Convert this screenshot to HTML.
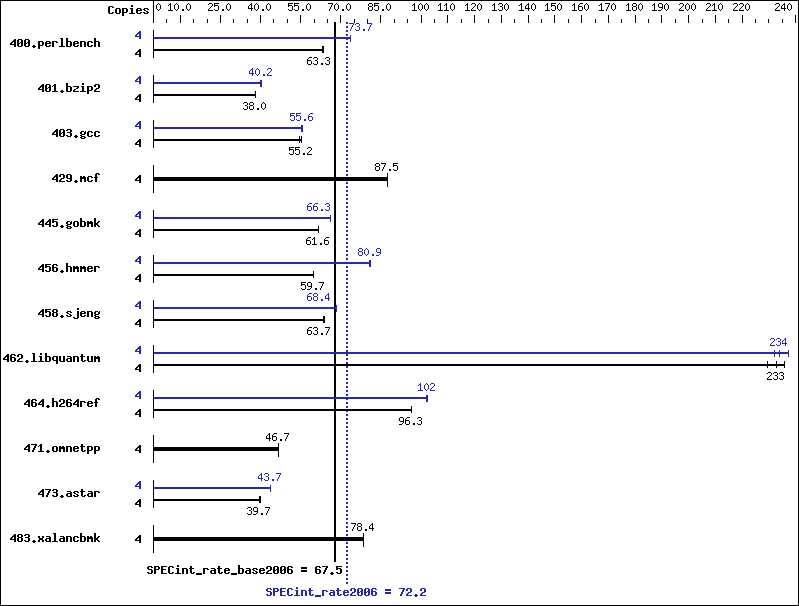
<!DOCTYPE html>
<html><head><meta charset="utf-8"><title>SPECint_rate2006</title>
<style>
html,body{margin:0;padding:0;background:#fff;font-family:"Liberation Sans",sans-serif;}
svg{display:block;}
text{font-family:"Liberation Mono",monospace;fill:none;stroke:none;white-space:pre;}
.tb{font-size:12px;font-weight:bold;}
.ts{font-size:10px;}
</style></head><body>
<svg width="799" height="606" viewBox="0 0 799 606" shape-rendering="crispEdges" fill="#000">
<defs>
<path id="s0" d="M2 0h1v1h-1zM1 1h1v1h-1zM3 1h1v1h-1zM0 2h1v1h-1zM4 2h1v1h-1zM0 3h1v1h-1zM4 3h1v1h-1zM0 4h1v1h-1zM4 4h1v1h-1zM0 5h1v1h-1zM4 5h1v1h-1zM1 6h1v1h-1zM3 6h1v1h-1zM2 7h1v1h-1z"/>
<path id="s1" d="M2 0h1v1h-1zM1 1h2v1h-2zM0 2h1v1h-1zM2 2h1v1h-1zM2 3h1v1h-1zM2 4h1v1h-1zM2 5h1v1h-1zM2 6h1v1h-1zM0 7h5v1h-5z"/>
<path id="s2" d="M2 6h2v1h-2zM2 7h2v1h-2z"/>
<path id="s3" d="M1 0h3v1h-3zM0 1h1v1h-1zM4 1h1v1h-1zM4 2h1v1h-1zM3 3h1v1h-1zM2 4h1v1h-1zM1 5h1v1h-1zM0 6h1v1h-1zM0 7h5v1h-5z"/>
<path id="s4" d="M0 0h5v1h-5zM0 1h1v1h-1zM0 2h4v1h-4zM0 3h1v1h-1zM4 3h1v1h-1zM4 4h1v1h-1zM4 5h1v1h-1zM0 6h1v1h-1zM4 6h1v1h-1zM1 7h3v1h-3z"/>
<path id="s5" d="M3 0h1v1h-1zM2 1h2v1h-2zM1 2h1v1h-1zM3 2h1v1h-1zM0 3h1v1h-1zM3 3h1v1h-1zM0 4h1v1h-1zM3 4h1v1h-1zM0 5h5v1h-5zM3 6h1v1h-1zM3 7h1v1h-1z"/>
<path id="s6" d="M0 0h5v1h-5zM4 1h1v1h-1zM3 2h1v1h-1zM3 3h1v1h-1zM2 4h1v1h-1zM2 5h1v1h-1zM1 6h1v1h-1zM1 7h1v1h-1z"/>
<path id="s7" d="M1 0h3v1h-3zM0 1h1v1h-1zM4 1h1v1h-1zM0 2h1v1h-1zM4 2h1v1h-1zM1 3h3v1h-3zM0 4h1v1h-1zM4 4h1v1h-1zM0 5h1v1h-1zM4 5h1v1h-1zM0 6h1v1h-1zM4 6h1v1h-1zM1 7h3v1h-3z"/>
<path id="s8" d="M1 0h3v1h-3zM0 1h1v1h-1zM4 1h1v1h-1zM4 2h1v1h-1zM2 3h2v1h-2zM4 4h1v1h-1zM4 5h1v1h-1zM0 6h1v1h-1zM4 6h1v1h-1zM1 7h3v1h-3z"/>
<path id="s9" d="M2 0h3v1h-3zM1 1h1v1h-1zM0 2h1v1h-1zM0 3h4v1h-4zM0 4h1v1h-1zM4 4h1v1h-1zM0 5h1v1h-1zM4 5h1v1h-1zM0 6h1v1h-1zM4 6h1v1h-1zM1 7h3v1h-3z"/>
<path id="s10" d="M1 0h3v1h-3zM0 1h1v1h-1zM4 1h1v1h-1zM0 2h1v1h-1zM4 2h1v1h-1zM0 3h1v1h-1zM4 3h1v1h-1zM1 4h4v1h-4zM4 5h1v1h-1zM3 6h1v1h-1zM0 7h3v1h-3z"/>
<path id="b11" d="M1 0h4v1h-4zM0 1h2v1h-2zM4 1h2v1h-2zM0 2h2v1h-2zM0 3h2v1h-2zM0 4h2v1h-2zM0 5h2v1h-2zM0 6h2v1h-2zM4 6h2v1h-2zM1 7h4v1h-4z"/>
<path id="b12" d="M1 2h4v1h-4zM0 3h2v1h-2zM4 3h2v1h-2zM0 4h2v1h-2zM4 4h2v1h-2zM0 5h2v1h-2zM4 5h2v1h-2zM0 6h2v1h-2zM4 6h2v1h-2zM1 7h4v1h-4z"/>
<path id="b13" d="M0 2h5v1h-5zM0 3h2v1h-2zM4 3h2v1h-2zM0 4h2v1h-2zM4 4h2v1h-2zM0 5h2v1h-2zM4 5h2v1h-2zM0 6h5v1h-5zM0 7h2v1h-2zM0 8h2v1h-2zM0 9h2v1h-2z"/>
<path id="b14" d="M2 -1h2v1h-2zM2 0h2v1h-2zM1 2h3v1h-3zM2 3h2v1h-2zM2 4h2v1h-2zM2 5h2v1h-2zM2 6h2v1h-2zM0 7h6v1h-6z"/>
<path id="b15" d="M1 2h4v1h-4zM0 3h2v1h-2zM4 3h2v1h-2zM0 4h6v1h-6zM0 5h2v1h-2zM0 6h2v1h-2zM4 6h2v1h-2zM1 7h4v1h-4z"/>
<path id="b16" d="M1 2h4v1h-4zM0 3h2v1h-2zM4 3h2v1h-2zM1 4h2v1h-2zM3 5h2v1h-2zM0 6h2v1h-2zM4 6h2v1h-2zM1 7h4v1h-4z"/>
<path id="b17" d="M4 0h2v1h-2zM3 1h3v1h-3zM2 2h4v1h-4zM1 3h2v1h-2zM4 3h2v1h-2zM0 4h2v1h-2zM4 4h2v1h-2zM0 5h6v1h-6zM4 6h2v1h-2zM4 7h2v1h-2z"/>
<path id="b18" d="M1 0h4v1h-4zM0 1h2v1h-2zM4 1h2v1h-2zM0 2h2v1h-2zM4 2h2v1h-2zM0 3h2v1h-2zM3 3h3v1h-3zM0 4h3v1h-3zM4 4h2v1h-2zM0 5h2v1h-2zM4 5h2v1h-2zM0 6h2v1h-2zM4 6h2v1h-2zM1 7h4v1h-4z"/>
<path id="b19" d="M2 6h2v1h-2zM1 7h4v1h-4zM2 8h2v1h-2z"/>
<path id="b20" d="M0 2h5v1h-5zM0 3h2v1h-2zM4 3h2v1h-2zM0 4h2v1h-2zM0 5h2v1h-2zM0 6h2v1h-2zM0 7h2v1h-2z"/>
<path id="b21" d="M1 -1h3v1h-3zM2 0h2v1h-2zM2 1h2v1h-2zM2 2h2v1h-2zM2 3h2v1h-2zM2 4h2v1h-2zM2 5h2v1h-2zM2 6h2v1h-2zM0 7h6v1h-6z"/>
<path id="b22" d="M0 -1h2v1h-2zM0 0h2v1h-2zM0 1h2v1h-2zM0 2h5v1h-5zM0 3h2v1h-2zM4 3h2v1h-2zM0 4h2v1h-2zM4 4h2v1h-2zM0 5h2v1h-2zM4 5h2v1h-2zM0 6h2v1h-2zM4 6h2v1h-2zM0 7h5v1h-5z"/>
<path id="b23" d="M0 2h5v1h-5zM0 3h2v1h-2zM4 3h2v1h-2zM0 4h2v1h-2zM4 4h2v1h-2zM0 5h2v1h-2zM4 5h2v1h-2zM0 6h2v1h-2zM4 6h2v1h-2zM0 7h2v1h-2zM4 7h2v1h-2z"/>
<path id="b24" d="M1 2h4v1h-4zM0 3h2v1h-2zM4 3h2v1h-2zM0 4h2v1h-2zM0 5h2v1h-2zM0 6h2v1h-2zM4 6h2v1h-2zM1 7h4v1h-4z"/>
<path id="b25" d="M0 -1h2v1h-2zM0 0h2v1h-2zM0 1h2v1h-2zM0 2h5v1h-5zM0 3h2v1h-2zM4 3h2v1h-2zM0 4h2v1h-2zM4 4h2v1h-2zM0 5h2v1h-2zM4 5h2v1h-2zM0 6h2v1h-2zM4 6h2v1h-2zM0 7h2v1h-2zM4 7h2v1h-2z"/>
<path id="b26" d="M2 0h2v1h-2zM1 1h3v1h-3zM0 2h1v1h-1zM2 2h2v1h-2zM2 3h2v1h-2zM2 4h2v1h-2zM2 5h2v1h-2zM2 6h2v1h-2zM0 7h6v1h-6z"/>
<path id="b27" d="M0 2h6v1h-6zM4 3h2v1h-2zM3 4h2v1h-2zM1 5h2v1h-2zM0 6h2v1h-2zM0 7h6v1h-6z"/>
<path id="b28" d="M1 0h4v1h-4zM0 1h2v1h-2zM4 1h2v1h-2zM0 2h2v1h-2zM4 2h2v1h-2zM4 3h2v1h-2zM2 4h3v1h-3zM1 5h2v1h-2zM0 6h2v1h-2zM0 7h6v1h-6z"/>
<path id="b29" d="M1 0h4v1h-4zM0 1h2v1h-2zM4 1h2v1h-2zM4 2h2v1h-2zM1 3h4v1h-4zM4 4h2v1h-2zM4 5h2v1h-2zM0 6h2v1h-2zM4 6h2v1h-2zM1 7h4v1h-4z"/>
<path id="b30" d="M1 2h3v1h-3zM5 2h1v1h-1zM0 3h2v1h-2zM4 3h2v1h-2zM0 4h2v1h-2zM4 4h2v1h-2zM1 5h4v1h-4zM0 6h2v1h-2zM1 7h4v1h-4zM0 8h2v1h-2zM4 8h2v1h-2zM1 9h4v1h-4z"/>
<path id="b31" d="M1 0h4v1h-4zM0 1h2v1h-2zM4 1h2v1h-2zM0 2h2v1h-2zM4 2h2v1h-2zM0 3h2v1h-2zM4 3h2v1h-2zM1 4h5v1h-5zM4 5h2v1h-2zM0 6h2v1h-2zM4 6h2v1h-2zM1 7h4v1h-4z"/>
<path id="b32" d="M0 2h2v1h-2zM3 2h2v1h-2zM0 3h6v1h-6zM0 4h6v1h-6zM0 5h2v1h-2zM4 5h2v1h-2zM0 6h2v1h-2zM4 6h2v1h-2zM0 7h2v1h-2zM4 7h2v1h-2z"/>
<path id="b33" d="M2 -1h3v1h-3zM1 0h2v1h-2zM4 0h2v1h-2zM1 1h2v1h-2zM1 2h2v1h-2zM0 3h4v1h-4zM1 4h2v1h-2zM1 5h2v1h-2zM1 6h2v1h-2zM1 7h2v1h-2z"/>
<path id="b34" d="M0 0h6v1h-6zM0 1h2v1h-2zM0 2h5v1h-5zM0 3h2v1h-2zM4 3h2v1h-2zM4 4h2v1h-2zM4 5h2v1h-2zM0 6h2v1h-2zM4 6h2v1h-2zM1 7h4v1h-4z"/>
<path id="b35" d="M0 -1h2v1h-2zM0 0h2v1h-2zM0 1h2v1h-2zM0 2h2v1h-2zM4 2h2v1h-2zM0 3h2v1h-2zM3 3h2v1h-2zM0 4h4v1h-4zM0 5h4v1h-4zM0 6h2v1h-2zM3 6h2v1h-2zM0 7h2v1h-2zM4 7h2v1h-2z"/>
<path id="b36" d="M1 0h4v1h-4zM0 1h2v1h-2zM4 1h2v1h-2zM0 2h2v1h-2zM0 3h5v1h-5zM0 4h2v1h-2zM4 4h2v1h-2zM0 5h2v1h-2zM4 5h2v1h-2zM0 6h2v1h-2zM4 6h2v1h-2zM1 7h4v1h-4z"/>
<path id="b37" d="M1 0h4v1h-4zM0 1h2v1h-2zM4 1h2v1h-2zM0 2h2v1h-2zM4 2h2v1h-2zM1 3h4v1h-4zM0 4h2v1h-2zM4 4h2v1h-2zM0 5h2v1h-2zM4 5h2v1h-2zM0 6h2v1h-2zM4 6h2v1h-2zM1 7h4v1h-4z"/>
<path id="b38" d="M4 -1h2v1h-2zM4 0h2v1h-2zM4 2h2v1h-2zM4 3h2v1h-2zM4 4h2v1h-2zM4 5h2v1h-2zM4 6h2v1h-2zM4 7h2v1h-2zM0 8h2v1h-2zM4 8h2v1h-2zM1 9h4v1h-4z"/>
<path id="b39" d="M1 2h5v1h-5zM0 3h2v1h-2zM4 3h2v1h-2zM0 4h2v1h-2zM4 4h2v1h-2zM0 5h2v1h-2zM4 5h2v1h-2zM1 6h5v1h-5zM4 7h2v1h-2zM4 8h2v1h-2zM4 9h2v1h-2z"/>
<path id="b40" d="M0 2h2v1h-2zM4 2h2v1h-2zM0 3h2v1h-2zM4 3h2v1h-2zM0 4h2v1h-2zM4 4h2v1h-2zM0 5h2v1h-2zM4 5h2v1h-2zM0 6h2v1h-2zM4 6h2v1h-2zM1 7h5v1h-5z"/>
<path id="b41" d="M1 2h4v1h-4zM4 3h2v1h-2zM1 4h5v1h-5zM0 5h2v1h-2zM4 5h2v1h-2zM0 6h2v1h-2zM4 6h2v1h-2zM1 7h5v1h-5z"/>
<path id="b42" d="M1 0h2v1h-2zM1 1h2v1h-2zM0 2h5v1h-5zM1 3h2v1h-2zM1 4h2v1h-2zM1 5h2v1h-2zM1 6h2v1h-2zM4 6h2v1h-2zM2 7h3v1h-3z"/>
<path id="b43" d="M0 0h6v1h-6zM4 1h2v1h-2zM3 2h2v1h-2zM3 3h2v1h-2zM2 4h2v1h-2zM2 5h2v1h-2zM1 6h2v1h-2zM1 7h2v1h-2z"/>
<path id="b44" d="M0 2h2v1h-2zM4 2h2v1h-2zM0 3h2v1h-2zM4 3h2v1h-2zM1 4h4v1h-4zM1 5h4v1h-4zM0 6h2v1h-2zM4 6h2v1h-2zM0 7h2v1h-2zM4 7h2v1h-2z"/>
<path id="b45" d="M1 0h4v1h-4zM0 1h2v1h-2zM4 1h2v1h-2zM0 2h2v1h-2zM1 3h4v1h-4zM4 4h2v1h-2zM4 5h2v1h-2zM0 6h2v1h-2zM4 6h2v1h-2zM1 7h4v1h-4z"/>
<path id="b46" d="M0 0h5v1h-5zM0 1h2v1h-2zM4 1h2v1h-2zM0 2h2v1h-2zM4 2h2v1h-2zM0 3h5v1h-5zM0 4h2v1h-2zM0 5h2v1h-2zM0 6h2v1h-2zM0 7h2v1h-2z"/>
<path id="b47" d="M0 0h6v1h-6zM0 1h2v1h-2zM0 2h2v1h-2zM0 3h5v1h-5zM0 4h2v1h-2zM0 5h2v1h-2zM0 6h2v1h-2zM0 7h6v1h-6z"/>
<path id="b48" d="M0 7h6v1h-6zM0 8h6v1h-6z"/>
<path id="b49" d="M0 1h6v1h-6zM0 2h6v1h-6zM0 4h6v1h-6zM0 5h6v1h-6z"/>
</defs>
<rect x="153" y="0" width="1" height="23"/>
<rect x="166" y="19" width="1" height="4"/>
<rect x="180" y="15" width="1" height="8"/>
<rect x="193" y="19" width="1" height="4"/>
<rect x="207" y="19" width="1" height="4"/>
<rect x="220" y="15" width="1" height="8"/>
<rect x="233" y="19" width="1" height="4"/>
<rect x="247" y="19" width="1" height="4"/>
<rect x="260" y="15" width="1" height="8"/>
<rect x="273" y="19" width="1" height="4"/>
<rect x="287" y="19" width="1" height="4"/>
<rect x="300" y="15" width="1" height="8"/>
<rect x="314" y="19" width="1" height="4"/>
<rect x="327" y="19" width="1" height="4"/>
<rect x="340" y="15" width="1" height="8"/>
<rect x="354" y="19" width="1" height="4"/>
<rect x="367" y="19" width="1" height="4"/>
<rect x="380" y="15" width="1" height="8"/>
<rect x="394" y="19" width="1" height="4"/>
<rect x="407" y="19" width="1" height="4"/>
<rect x="421" y="15" width="1" height="8"/>
<rect x="434" y="19" width="1" height="4"/>
<rect x="447" y="15" width="1" height="8"/>
<rect x="461" y="19" width="1" height="4"/>
<rect x="474" y="15" width="1" height="8"/>
<rect x="488" y="19" width="1" height="4"/>
<rect x="501" y="15" width="1" height="8"/>
<rect x="514" y="19" width="1" height="4"/>
<rect x="528" y="15" width="1" height="8"/>
<rect x="541" y="19" width="1" height="4"/>
<rect x="554" y="15" width="1" height="8"/>
<rect x="568" y="19" width="1" height="4"/>
<rect x="581" y="15" width="1" height="8"/>
<rect x="595" y="19" width="1" height="4"/>
<rect x="608" y="15" width="1" height="8"/>
<rect x="621" y="19" width="1" height="4"/>
<rect x="635" y="15" width="1" height="8"/>
<rect x="648" y="19" width="1" height="4"/>
<rect x="661" y="15" width="1" height="8"/>
<rect x="675" y="19" width="1" height="4"/>
<rect x="688" y="15" width="1" height="8"/>
<rect x="702" y="19" width="1" height="4"/>
<rect x="715" y="15" width="1" height="8"/>
<rect x="728" y="19" width="1" height="4"/>
<rect x="742" y="15" width="1" height="8"/>
<rect x="755" y="19" width="1" height="4"/>
<rect x="768" y="19" width="1" height="4"/>
<rect x="782" y="19" width="1" height="4"/>
<rect x="795" y="15" width="1" height="8"/>
<g><text class="ts" x="156" y="11" textLength="6">0</text><use href="#s0" x="156" y="3"/></g>
<g><text class="ts" x="168" y="11" textLength="24">10.0</text><use href="#s1" x="168" y="3"/><use href="#s0" x="174" y="3"/><use href="#s2" x="180" y="3"/><use href="#s0" x="186" y="3"/></g>
<g><text class="ts" x="208" y="11" textLength="24">25.0</text><use href="#s3" x="208" y="3"/><use href="#s4" x="214" y="3"/><use href="#s2" x="220" y="3"/><use href="#s0" x="226" y="3"/></g>
<g><text class="ts" x="248" y="11" textLength="24">40.0</text><use href="#s5" x="248" y="3"/><use href="#s0" x="254" y="3"/><use href="#s2" x="260" y="3"/><use href="#s0" x="266" y="3"/></g>
<g><text class="ts" x="288" y="11" textLength="24">55.0</text><use href="#s4" x="288" y="3"/><use href="#s4" x="294" y="3"/><use href="#s2" x="300" y="3"/><use href="#s0" x="306" y="3"/></g>
<g><text class="ts" x="328" y="11" textLength="24">70.0</text><use href="#s6" x="328" y="3"/><use href="#s0" x="334" y="3"/><use href="#s2" x="340" y="3"/><use href="#s0" x="346" y="3"/></g>
<g><text class="ts" x="368" y="11" textLength="24">85.0</text><use href="#s7" x="368" y="3"/><use href="#s4" x="374" y="3"/><use href="#s2" x="380" y="3"/><use href="#s0" x="386" y="3"/></g>
<g><text class="ts" x="412" y="11" textLength="18">100</text><use href="#s1" x="412" y="3"/><use href="#s0" x="418" y="3"/><use href="#s0" x="424" y="3"/></g>
<g><text class="ts" x="438" y="11" textLength="18">110</text><use href="#s1" x="438" y="3"/><use href="#s1" x="444" y="3"/><use href="#s0" x="450" y="3"/></g>
<g><text class="ts" x="465" y="11" textLength="18">120</text><use href="#s1" x="465" y="3"/><use href="#s3" x="471" y="3"/><use href="#s0" x="477" y="3"/></g>
<g><text class="ts" x="492" y="11" textLength="18">130</text><use href="#s1" x="492" y="3"/><use href="#s8" x="498" y="3"/><use href="#s0" x="504" y="3"/></g>
<g><text class="ts" x="519" y="11" textLength="18">140</text><use href="#s1" x="519" y="3"/><use href="#s5" x="525" y="3"/><use href="#s0" x="531" y="3"/></g>
<g><text class="ts" x="545" y="11" textLength="18">150</text><use href="#s1" x="545" y="3"/><use href="#s4" x="551" y="3"/><use href="#s0" x="557" y="3"/></g>
<g><text class="ts" x="572" y="11" textLength="18">160</text><use href="#s1" x="572" y="3"/><use href="#s9" x="578" y="3"/><use href="#s0" x="584" y="3"/></g>
<g><text class="ts" x="599" y="11" textLength="18">170</text><use href="#s1" x="599" y="3"/><use href="#s6" x="605" y="3"/><use href="#s0" x="611" y="3"/></g>
<g><text class="ts" x="626" y="11" textLength="18">180</text><use href="#s1" x="626" y="3"/><use href="#s7" x="632" y="3"/><use href="#s0" x="638" y="3"/></g>
<g><text class="ts" x="652" y="11" textLength="18">190</text><use href="#s1" x="652" y="3"/><use href="#s10" x="658" y="3"/><use href="#s0" x="664" y="3"/></g>
<g><text class="ts" x="679" y="11" textLength="18">200</text><use href="#s3" x="679" y="3"/><use href="#s0" x="685" y="3"/><use href="#s0" x="691" y="3"/></g>
<g><text class="ts" x="706" y="11" textLength="18">210</text><use href="#s3" x="706" y="3"/><use href="#s1" x="712" y="3"/><use href="#s0" x="718" y="3"/></g>
<g><text class="ts" x="733" y="11" textLength="18">220</text><use href="#s3" x="733" y="3"/><use href="#s3" x="739" y="3"/><use href="#s0" x="745" y="3"/></g>
<g><text class="ts" x="775" y="11" textLength="18">240</text><use href="#s3" x="775" y="3"/><use href="#s5" x="781" y="3"/><use href="#s0" x="787" y="3"/></g>
<g><text class="tb" x="108" y="14" textLength="42">Copies</text><use href="#b11" x="108" y="6"/><use href="#b12" x="115" y="6"/><use href="#b13" x="122" y="6"/><use href="#b14" x="129" y="6"/><use href="#b15" x="136" y="6"/><use href="#b16" x="143" y="6"/></g>
<rect x="334" y="22" width="2" height="540"/>
<rect x="346" y="22" width="2" height="2" fill="#2727b0"/>
<rect x="346" y="26" width="2" height="2" fill="#2727b0"/>
<rect x="346" y="30" width="2" height="2" fill="#2727b0"/>
<rect x="346" y="34" width="2" height="2" fill="#2727b0"/>
<rect x="346" y="38" width="2" height="2" fill="#2727b0"/>
<rect x="346" y="42" width="2" height="2" fill="#2727b0"/>
<rect x="346" y="46" width="2" height="2" fill="#2727b0"/>
<rect x="346" y="50" width="2" height="2" fill="#2727b0"/>
<rect x="346" y="54" width="2" height="2" fill="#2727b0"/>
<rect x="346" y="58" width="2" height="2" fill="#2727b0"/>
<rect x="346" y="62" width="2" height="2" fill="#2727b0"/>
<rect x="346" y="66" width="2" height="2" fill="#2727b0"/>
<rect x="346" y="70" width="2" height="2" fill="#2727b0"/>
<rect x="346" y="74" width="2" height="2" fill="#2727b0"/>
<rect x="346" y="78" width="2" height="2" fill="#2727b0"/>
<rect x="346" y="82" width="2" height="2" fill="#2727b0"/>
<rect x="346" y="86" width="2" height="2" fill="#2727b0"/>
<rect x="346" y="90" width="2" height="2" fill="#2727b0"/>
<rect x="346" y="94" width="2" height="2" fill="#2727b0"/>
<rect x="346" y="98" width="2" height="2" fill="#2727b0"/>
<rect x="346" y="102" width="2" height="2" fill="#2727b0"/>
<rect x="346" y="106" width="2" height="2" fill="#2727b0"/>
<rect x="346" y="110" width="2" height="2" fill="#2727b0"/>
<rect x="346" y="114" width="2" height="2" fill="#2727b0"/>
<rect x="346" y="118" width="2" height="2" fill="#2727b0"/>
<rect x="346" y="122" width="2" height="2" fill="#2727b0"/>
<rect x="346" y="126" width="2" height="2" fill="#2727b0"/>
<rect x="346" y="130" width="2" height="2" fill="#2727b0"/>
<rect x="346" y="134" width="2" height="2" fill="#2727b0"/>
<rect x="346" y="138" width="2" height="2" fill="#2727b0"/>
<rect x="346" y="142" width="2" height="2" fill="#2727b0"/>
<rect x="346" y="146" width="2" height="2" fill="#2727b0"/>
<rect x="346" y="150" width="2" height="2" fill="#2727b0"/>
<rect x="346" y="154" width="2" height="2" fill="#2727b0"/>
<rect x="346" y="158" width="2" height="2" fill="#2727b0"/>
<rect x="346" y="162" width="2" height="2" fill="#2727b0"/>
<rect x="346" y="166" width="2" height="2" fill="#2727b0"/>
<rect x="346" y="170" width="2" height="2" fill="#2727b0"/>
<rect x="346" y="174" width="2" height="2" fill="#2727b0"/>
<rect x="346" y="178" width="2" height="2" fill="#2727b0"/>
<rect x="346" y="182" width="2" height="2" fill="#2727b0"/>
<rect x="346" y="186" width="2" height="2" fill="#2727b0"/>
<rect x="346" y="190" width="2" height="2" fill="#2727b0"/>
<rect x="346" y="194" width="2" height="2" fill="#2727b0"/>
<rect x="346" y="198" width="2" height="2" fill="#2727b0"/>
<rect x="346" y="202" width="2" height="2" fill="#2727b0"/>
<rect x="346" y="206" width="2" height="2" fill="#2727b0"/>
<rect x="346" y="210" width="2" height="2" fill="#2727b0"/>
<rect x="346" y="214" width="2" height="2" fill="#2727b0"/>
<rect x="346" y="218" width="2" height="2" fill="#2727b0"/>
<rect x="346" y="222" width="2" height="2" fill="#2727b0"/>
<rect x="346" y="226" width="2" height="2" fill="#2727b0"/>
<rect x="346" y="230" width="2" height="2" fill="#2727b0"/>
<rect x="346" y="234" width="2" height="2" fill="#2727b0"/>
<rect x="346" y="238" width="2" height="2" fill="#2727b0"/>
<rect x="346" y="242" width="2" height="2" fill="#2727b0"/>
<rect x="346" y="246" width="2" height="2" fill="#2727b0"/>
<rect x="346" y="250" width="2" height="2" fill="#2727b0"/>
<rect x="346" y="254" width="2" height="2" fill="#2727b0"/>
<rect x="346" y="258" width="2" height="2" fill="#2727b0"/>
<rect x="346" y="262" width="2" height="2" fill="#2727b0"/>
<rect x="346" y="266" width="2" height="2" fill="#2727b0"/>
<rect x="346" y="270" width="2" height="2" fill="#2727b0"/>
<rect x="346" y="274" width="2" height="2" fill="#2727b0"/>
<rect x="346" y="278" width="2" height="2" fill="#2727b0"/>
<rect x="346" y="282" width="2" height="2" fill="#2727b0"/>
<rect x="346" y="286" width="2" height="2" fill="#2727b0"/>
<rect x="346" y="290" width="2" height="2" fill="#2727b0"/>
<rect x="346" y="294" width="2" height="2" fill="#2727b0"/>
<rect x="346" y="298" width="2" height="2" fill="#2727b0"/>
<rect x="346" y="302" width="2" height="2" fill="#2727b0"/>
<rect x="346" y="306" width="2" height="2" fill="#2727b0"/>
<rect x="346" y="310" width="2" height="2" fill="#2727b0"/>
<rect x="346" y="314" width="2" height="2" fill="#2727b0"/>
<rect x="346" y="318" width="2" height="2" fill="#2727b0"/>
<rect x="346" y="322" width="2" height="2" fill="#2727b0"/>
<rect x="346" y="326" width="2" height="2" fill="#2727b0"/>
<rect x="346" y="330" width="2" height="2" fill="#2727b0"/>
<rect x="346" y="334" width="2" height="2" fill="#2727b0"/>
<rect x="346" y="338" width="2" height="2" fill="#2727b0"/>
<rect x="346" y="342" width="2" height="2" fill="#2727b0"/>
<rect x="346" y="346" width="2" height="2" fill="#2727b0"/>
<rect x="346" y="350" width="2" height="2" fill="#2727b0"/>
<rect x="346" y="354" width="2" height="2" fill="#2727b0"/>
<rect x="346" y="358" width="2" height="2" fill="#2727b0"/>
<rect x="346" y="362" width="2" height="2" fill="#2727b0"/>
<rect x="346" y="366" width="2" height="2" fill="#2727b0"/>
<rect x="346" y="370" width="2" height="2" fill="#2727b0"/>
<rect x="346" y="374" width="2" height="2" fill="#2727b0"/>
<rect x="346" y="378" width="2" height="2" fill="#2727b0"/>
<rect x="346" y="382" width="2" height="2" fill="#2727b0"/>
<rect x="346" y="386" width="2" height="2" fill="#2727b0"/>
<rect x="346" y="390" width="2" height="2" fill="#2727b0"/>
<rect x="346" y="394" width="2" height="2" fill="#2727b0"/>
<rect x="346" y="398" width="2" height="2" fill="#2727b0"/>
<rect x="346" y="402" width="2" height="2" fill="#2727b0"/>
<rect x="346" y="406" width="2" height="2" fill="#2727b0"/>
<rect x="346" y="410" width="2" height="2" fill="#2727b0"/>
<rect x="346" y="414" width="2" height="2" fill="#2727b0"/>
<rect x="346" y="418" width="2" height="2" fill="#2727b0"/>
<rect x="346" y="422" width="2" height="2" fill="#2727b0"/>
<rect x="346" y="426" width="2" height="2" fill="#2727b0"/>
<rect x="346" y="430" width="2" height="2" fill="#2727b0"/>
<rect x="346" y="434" width="2" height="2" fill="#2727b0"/>
<rect x="346" y="438" width="2" height="2" fill="#2727b0"/>
<rect x="346" y="442" width="2" height="2" fill="#2727b0"/>
<rect x="346" y="446" width="2" height="2" fill="#2727b0"/>
<rect x="346" y="450" width="2" height="2" fill="#2727b0"/>
<rect x="346" y="454" width="2" height="2" fill="#2727b0"/>
<rect x="346" y="458" width="2" height="2" fill="#2727b0"/>
<rect x="346" y="462" width="2" height="2" fill="#2727b0"/>
<rect x="346" y="466" width="2" height="2" fill="#2727b0"/>
<rect x="346" y="470" width="2" height="2" fill="#2727b0"/>
<rect x="346" y="474" width="2" height="2" fill="#2727b0"/>
<rect x="346" y="478" width="2" height="2" fill="#2727b0"/>
<rect x="346" y="482" width="2" height="2" fill="#2727b0"/>
<rect x="346" y="486" width="2" height="2" fill="#2727b0"/>
<rect x="346" y="490" width="2" height="2" fill="#2727b0"/>
<rect x="346" y="494" width="2" height="2" fill="#2727b0"/>
<rect x="346" y="498" width="2" height="2" fill="#2727b0"/>
<rect x="346" y="502" width="2" height="2" fill="#2727b0"/>
<rect x="346" y="506" width="2" height="2" fill="#2727b0"/>
<rect x="346" y="510" width="2" height="2" fill="#2727b0"/>
<rect x="346" y="514" width="2" height="2" fill="#2727b0"/>
<rect x="346" y="518" width="2" height="2" fill="#2727b0"/>
<rect x="346" y="522" width="2" height="2" fill="#2727b0"/>
<rect x="346" y="526" width="2" height="2" fill="#2727b0"/>
<rect x="346" y="530" width="2" height="2" fill="#2727b0"/>
<rect x="346" y="534" width="2" height="2" fill="#2727b0"/>
<rect x="346" y="538" width="2" height="2" fill="#2727b0"/>
<rect x="346" y="542" width="2" height="2" fill="#2727b0"/>
<rect x="346" y="546" width="2" height="2" fill="#2727b0"/>
<rect x="346" y="550" width="2" height="2" fill="#2727b0"/>
<rect x="346" y="554" width="2" height="2" fill="#2727b0"/>
<rect x="346" y="558" width="2" height="2" fill="#2727b0"/>
<rect x="346" y="562" width="2" height="2" fill="#2727b0"/>
<rect x="346" y="566" width="2" height="2" fill="#2727b0"/>
<rect x="346" y="570" width="2" height="2" fill="#2727b0"/>
<rect x="346" y="574" width="2" height="2" fill="#2727b0"/>
<rect x="346" y="578" width="2" height="2" fill="#2727b0"/>
<rect x="346" y="582" width="2" height="2" fill="#2727b0"/>
<rect x="153" y="30" width="1" height="28"/>
<g><text class="tb" x="10" y="47" textLength="91">400.perlbench</text><use href="#b17" x="10" y="39"/><use href="#b18" x="17" y="39"/><use href="#b18" x="24" y="39"/><use href="#b19" x="31" y="39"/><use href="#b13" x="38" y="39"/><use href="#b15" x="45" y="39"/><use href="#b20" x="52" y="39"/><use href="#b21" x="59" y="39"/><use href="#b22" x="66" y="39"/><use href="#b15" x="73" y="39"/><use href="#b23" x="80" y="39"/><use href="#b24" x="87" y="39"/><use href="#b25" x="94" y="39"/></g>
<rect x="154" y="37" width="197" height="2" fill="#2727b0"/>
<rect x="350" y="35" width="1" height="7" fill="#2727b0"/>
<g fill="#2727b0"><text class="ts" x="349" y="31" textLength="24">73.7</text><use href="#s6" x="349" y="23"/><use href="#s8" x="355" y="23"/><use href="#s2" x="361" y="23"/><use href="#s6" x="367" y="23"/></g>
<g fill="#2727b0"><text class="tb" x="135" y="39" textLength="7">4</text><use href="#b17" x="135" y="31"/></g>
<rect x="154" y="49" width="170" height="2"/>
<rect x="322" y="46" width="1" height="7"/>
<rect x="323" y="46" width="1" height="7"/>
<g><text class="ts" x="307" y="65" textLength="24">63.3</text><use href="#s9" x="307" y="57"/><use href="#s8" x="313" y="57"/><use href="#s2" x="319" y="57"/><use href="#s8" x="325" y="57"/></g>
<g><text class="tb" x="135" y="57" textLength="7">4</text><use href="#b17" x="135" y="49"/></g>
<rect x="153" y="75" width="1" height="28"/>
<g><text class="tb" x="38" y="92" textLength="63">401.bzip2</text><use href="#b17" x="38" y="84"/><use href="#b18" x="45" y="84"/><use href="#b26" x="52" y="84"/><use href="#b19" x="59" y="84"/><use href="#b22" x="66" y="84"/><use href="#b27" x="73" y="84"/><use href="#b14" x="80" y="84"/><use href="#b13" x="87" y="84"/><use href="#b28" x="94" y="84"/></g>
<rect x="154" y="82" width="108" height="2" fill="#2727b0"/>
<rect x="260" y="80" width="1" height="7" fill="#2727b0"/>
<rect x="261" y="80" width="1" height="7" fill="#2727b0"/>
<g fill="#2727b0"><text class="ts" x="249" y="76" textLength="24">40.2</text><use href="#s5" x="249" y="68"/><use href="#s0" x="255" y="68"/><use href="#s2" x="261" y="68"/><use href="#s3" x="267" y="68"/></g>
<g fill="#2727b0"><text class="tb" x="135" y="84" textLength="7">4</text><use href="#b17" x="135" y="76"/></g>
<rect x="154" y="94" width="102" height="2"/>
<rect x="255" y="91" width="1" height="7"/>
<g><text class="ts" x="243" y="110" textLength="24">38.0</text><use href="#s8" x="243" y="102"/><use href="#s7" x="249" y="102"/><use href="#s2" x="255" y="102"/><use href="#s0" x="261" y="102"/></g>
<g><text class="tb" x="135" y="102" textLength="7">4</text><use href="#b17" x="135" y="94"/></g>
<rect x="153" y="120" width="1" height="28"/>
<g><text class="tb" x="52" y="137" textLength="49">403.gcc</text><use href="#b17" x="52" y="129"/><use href="#b18" x="59" y="129"/><use href="#b29" x="66" y="129"/><use href="#b19" x="73" y="129"/><use href="#b30" x="80" y="129"/><use href="#b24" x="87" y="129"/><use href="#b24" x="94" y="129"/></g>
<rect x="154" y="127" width="149" height="2" fill="#2727b0"/>
<rect x="301" y="125" width="1" height="7" fill="#2727b0"/>
<rect x="302" y="125" width="1" height="7" fill="#2727b0"/>
<g fill="#2727b0"><text class="ts" x="290" y="121" textLength="24">55.6</text><use href="#s4" x="290" y="113"/><use href="#s4" x="296" y="113"/><use href="#s2" x="302" y="113"/><use href="#s9" x="308" y="113"/></g>
<g fill="#2727b0"><text class="tb" x="135" y="129" textLength="7">4</text><use href="#b17" x="135" y="121"/></g>
<rect x="154" y="139" width="148" height="2"/>
<rect x="299" y="136" width="1" height="7"/>
<rect x="301" y="136" width="1" height="7"/>
<g><text class="ts" x="289" y="155" textLength="24">55.2</text><use href="#s4" x="289" y="147"/><use href="#s4" x="295" y="147"/><use href="#s2" x="301" y="147"/><use href="#s3" x="307" y="147"/></g>
<g><text class="tb" x="135" y="147" textLength="7">4</text><use href="#b17" x="135" y="139"/></g>
<rect x="153" y="165" width="1" height="28"/>
<g><text class="tb" x="52" y="182" textLength="49">429.mcf</text><use href="#b17" x="52" y="174"/><use href="#b28" x="59" y="174"/><use href="#b31" x="66" y="174"/><use href="#b19" x="73" y="174"/><use href="#b32" x="80" y="174"/><use href="#b24" x="87" y="174"/><use href="#b33" x="94" y="174"/></g>
<rect x="154" y="177" width="234" height="4"/>
<rect x="387" y="173" width="1" height="14"/>
<g><text class="ts" x="375" y="171" textLength="24">87.5</text><use href="#s7" x="375" y="163"/><use href="#s6" x="381" y="163"/><use href="#s2" x="387" y="163"/><use href="#s4" x="393" y="163"/></g>
<g><text class="tb" x="135" y="183" textLength="7">4</text><use href="#b17" x="135" y="175"/></g>
<rect x="153" y="210" width="1" height="28"/>
<g><text class="tb" x="38" y="227" textLength="63">445.gobmk</text><use href="#b17" x="38" y="219"/><use href="#b17" x="45" y="219"/><use href="#b34" x="52" y="219"/><use href="#b19" x="59" y="219"/><use href="#b30" x="66" y="219"/><use href="#b12" x="73" y="219"/><use href="#b22" x="80" y="219"/><use href="#b32" x="87" y="219"/><use href="#b35" x="94" y="219"/></g>
<rect x="154" y="217" width="177" height="2" fill="#2727b0"/>
<rect x="330" y="215" width="1" height="7" fill="#2727b0"/>
<g fill="#2727b0"><text class="ts" x="307" y="211" textLength="24">66.3</text><use href="#s9" x="307" y="203"/><use href="#s9" x="313" y="203"/><use href="#s2" x="319" y="203"/><use href="#s8" x="325" y="203"/></g>
<g fill="#2727b0"><text class="tb" x="135" y="219" textLength="7">4</text><use href="#b17" x="135" y="211"/></g>
<rect x="154" y="229" width="165" height="2"/>
<rect x="318" y="226" width="1" height="7"/>
<g><text class="ts" x="306" y="245" textLength="24">61.6</text><use href="#s9" x="306" y="237"/><use href="#s1" x="312" y="237"/><use href="#s2" x="318" y="237"/><use href="#s9" x="324" y="237"/></g>
<g><text class="tb" x="135" y="237" textLength="7">4</text><use href="#b17" x="135" y="229"/></g>
<rect x="153" y="255" width="1" height="28"/>
<g><text class="tb" x="38" y="272" textLength="63">456.hmmer</text><use href="#b17" x="38" y="264"/><use href="#b34" x="45" y="264"/><use href="#b36" x="52" y="264"/><use href="#b19" x="59" y="264"/><use href="#b25" x="66" y="264"/><use href="#b32" x="73" y="264"/><use href="#b32" x="80" y="264"/><use href="#b15" x="87" y="264"/><use href="#b20" x="94" y="264"/></g>
<rect x="154" y="262" width="217" height="2" fill="#2727b0"/>
<rect x="369" y="260" width="1" height="7" fill="#2727b0"/>
<rect x="370" y="260" width="1" height="7" fill="#2727b0"/>
<g fill="#2727b0"><text class="ts" x="358" y="256" textLength="24">80.9</text><use href="#s7" x="358" y="248"/><use href="#s0" x="364" y="248"/><use href="#s2" x="370" y="248"/><use href="#s10" x="376" y="248"/></g>
<g fill="#2727b0"><text class="tb" x="135" y="264" textLength="7">4</text><use href="#b17" x="135" y="256"/></g>
<rect x="154" y="274" width="160" height="2"/>
<rect x="313" y="271" width="1" height="7"/>
<g><text class="ts" x="301" y="290" textLength="24">59.7</text><use href="#s4" x="301" y="282"/><use href="#s10" x="307" y="282"/><use href="#s2" x="313" y="282"/><use href="#s6" x="319" y="282"/></g>
<g><text class="tb" x="135" y="282" textLength="7">4</text><use href="#b17" x="135" y="274"/></g>
<rect x="153" y="300" width="1" height="28"/>
<g><text class="tb" x="38" y="317" textLength="63">458.sjeng</text><use href="#b17" x="38" y="309"/><use href="#b34" x="45" y="309"/><use href="#b37" x="52" y="309"/><use href="#b19" x="59" y="309"/><use href="#b16" x="66" y="309"/><use href="#b38" x="73" y="309"/><use href="#b15" x="80" y="309"/><use href="#b23" x="87" y="309"/><use href="#b30" x="94" y="309"/></g>
<rect x="154" y="307" width="183" height="2" fill="#2727b0"/>
<rect x="336" y="305" width="1" height="7" fill="#2727b0"/>
<g fill="#2727b0"><text class="ts" x="307" y="301" textLength="24">68.4</text><use href="#s9" x="307" y="293"/><use href="#s7" x="313" y="293"/><use href="#s2" x="319" y="293"/><use href="#s5" x="325" y="293"/></g>
<g fill="#2727b0"><text class="tb" x="135" y="309" textLength="7">4</text><use href="#b17" x="135" y="301"/></g>
<rect x="154" y="319" width="171" height="2"/>
<rect x="323" y="316" width="1" height="7"/>
<rect x="324" y="316" width="1" height="7"/>
<g><text class="ts" x="307" y="335" textLength="24">63.7</text><use href="#s9" x="307" y="327"/><use href="#s8" x="313" y="327"/><use href="#s2" x="319" y="327"/><use href="#s6" x="325" y="327"/></g>
<g><text class="tb" x="135" y="327" textLength="7">4</text><use href="#b17" x="135" y="319"/></g>
<rect x="153" y="345" width="1" height="28"/>
<g><text class="tb" x="3" y="362" textLength="98">462.libquantum</text><use href="#b17" x="3" y="354"/><use href="#b36" x="10" y="354"/><use href="#b28" x="17" y="354"/><use href="#b19" x="24" y="354"/><use href="#b21" x="31" y="354"/><use href="#b14" x="38" y="354"/><use href="#b22" x="45" y="354"/><use href="#b39" x="52" y="354"/><use href="#b40" x="59" y="354"/><use href="#b41" x="66" y="354"/><use href="#b23" x="73" y="354"/><use href="#b42" x="80" y="354"/><use href="#b40" x="87" y="354"/><use href="#b32" x="94" y="354"/></g>
<rect x="154" y="352" width="635" height="2" fill="#2727b0"/>
<rect x="774" y="350" width="1" height="7" fill="#2727b0"/>
<rect x="779" y="350" width="1" height="7" fill="#2727b0"/>
<rect x="788" y="350" width="1" height="7" fill="#2727b0"/>
<g fill="#2727b0"><text class="ts" x="770" y="346" textLength="18">234</text><use href="#s3" x="770" y="338"/><use href="#s8" x="776" y="338"/><use href="#s5" x="782" y="338"/></g>
<g fill="#2727b0"><text class="tb" x="135" y="354" textLength="7">4</text><use href="#b17" x="135" y="346"/></g>
<rect x="154" y="364" width="631" height="2"/>
<rect x="767" y="361" width="1" height="7"/>
<rect x="776" y="361" width="1" height="7"/>
<rect x="784" y="361" width="1" height="7"/>
<g><text class="ts" x="767" y="380" textLength="18">233</text><use href="#s3" x="767" y="372"/><use href="#s8" x="773" y="372"/><use href="#s8" x="779" y="372"/></g>
<g><text class="tb" x="135" y="372" textLength="7">4</text><use href="#b17" x="135" y="364"/></g>
<rect x="153" y="390" width="1" height="28"/>
<g><text class="tb" x="24" y="407" textLength="77">464.h264ref</text><use href="#b17" x="24" y="399"/><use href="#b36" x="31" y="399"/><use href="#b17" x="38" y="399"/><use href="#b19" x="45" y="399"/><use href="#b25" x="52" y="399"/><use href="#b28" x="59" y="399"/><use href="#b36" x="66" y="399"/><use href="#b17" x="73" y="399"/><use href="#b20" x="80" y="399"/><use href="#b15" x="87" y="399"/><use href="#b33" x="94" y="399"/></g>
<rect x="154" y="397" width="274" height="2" fill="#2727b0"/>
<rect x="426" y="395" width="1" height="7" fill="#2727b0"/>
<rect x="427" y="395" width="1" height="7" fill="#2727b0"/>
<g fill="#2727b0"><text class="ts" x="418" y="391" textLength="18">102</text><use href="#s1" x="418" y="383"/><use href="#s0" x="424" y="383"/><use href="#s3" x="430" y="383"/></g>
<g fill="#2727b0"><text class="tb" x="135" y="399" textLength="7">4</text><use href="#b17" x="135" y="391"/></g>
<rect x="154" y="409" width="258" height="2"/>
<rect x="411" y="406" width="1" height="7"/>
<g><text class="ts" x="399" y="425" textLength="24">96.3</text><use href="#s10" x="399" y="417"/><use href="#s9" x="405" y="417"/><use href="#s2" x="411" y="417"/><use href="#s8" x="417" y="417"/></g>
<g><text class="tb" x="135" y="417" textLength="7">4</text><use href="#b17" x="135" y="409"/></g>
<rect x="153" y="435" width="1" height="28"/>
<g><text class="tb" x="24" y="452" textLength="77">471.omnetpp</text><use href="#b17" x="24" y="444"/><use href="#b43" x="31" y="444"/><use href="#b26" x="38" y="444"/><use href="#b19" x="45" y="444"/><use href="#b12" x="52" y="444"/><use href="#b32" x="59" y="444"/><use href="#b23" x="66" y="444"/><use href="#b15" x="73" y="444"/><use href="#b42" x="80" y="444"/><use href="#b13" x="87" y="444"/><use href="#b13" x="94" y="444"/></g>
<rect x="154" y="447" width="125" height="4"/>
<rect x="278" y="443" width="1" height="14"/>
<g><text class="ts" x="266" y="441" textLength="24">46.7</text><use href="#s5" x="266" y="433"/><use href="#s9" x="272" y="433"/><use href="#s2" x="278" y="433"/><use href="#s6" x="284" y="433"/></g>
<g><text class="tb" x="135" y="453" textLength="7">4</text><use href="#b17" x="135" y="445"/></g>
<rect x="153" y="480" width="1" height="28"/>
<g><text class="tb" x="38" y="497" textLength="63">473.astar</text><use href="#b17" x="38" y="489"/><use href="#b43" x="45" y="489"/><use href="#b29" x="52" y="489"/><use href="#b19" x="59" y="489"/><use href="#b41" x="66" y="489"/><use href="#b16" x="73" y="489"/><use href="#b42" x="80" y="489"/><use href="#b41" x="87" y="489"/><use href="#b20" x="94" y="489"/></g>
<rect x="154" y="487" width="117" height="2" fill="#2727b0"/>
<rect x="270" y="485" width="1" height="7" fill="#2727b0"/>
<g fill="#2727b0"><text class="ts" x="258" y="481" textLength="24">43.7</text><use href="#s5" x="258" y="473"/><use href="#s8" x="264" y="473"/><use href="#s2" x="270" y="473"/><use href="#s6" x="276" y="473"/></g>
<g fill="#2727b0"><text class="tb" x="135" y="489" textLength="7">4</text><use href="#b17" x="135" y="481"/></g>
<rect x="154" y="499" width="107" height="2"/>
<rect x="259" y="496" width="1" height="7"/>
<rect x="260" y="496" width="1" height="7"/>
<g><text class="ts" x="247" y="515" textLength="24">39.7</text><use href="#s8" x="247" y="507"/><use href="#s10" x="253" y="507"/><use href="#s2" x="259" y="507"/><use href="#s6" x="265" y="507"/></g>
<g><text class="tb" x="135" y="507" textLength="7">4</text><use href="#b17" x="135" y="499"/></g>
<rect x="153" y="525" width="1" height="28"/>
<g><text class="tb" x="10" y="542" textLength="91">483.xalancbmk</text><use href="#b17" x="10" y="534"/><use href="#b37" x="17" y="534"/><use href="#b29" x="24" y="534"/><use href="#b19" x="31" y="534"/><use href="#b44" x="38" y="534"/><use href="#b41" x="45" y="534"/><use href="#b21" x="52" y="534"/><use href="#b41" x="59" y="534"/><use href="#b23" x="66" y="534"/><use href="#b24" x="73" y="534"/><use href="#b22" x="80" y="534"/><use href="#b32" x="87" y="534"/><use href="#b35" x="94" y="534"/></g>
<rect x="154" y="537" width="210" height="4"/>
<rect x="363" y="533" width="1" height="14"/>
<g><text class="ts" x="351" y="531" textLength="24">78.4</text><use href="#s6" x="351" y="523"/><use href="#s7" x="357" y="523"/><use href="#s2" x="363" y="523"/><use href="#s5" x="369" y="523"/></g>
<g><text class="tb" x="135" y="543" textLength="7">4</text><use href="#b17" x="135" y="535"/></g>
<g><text class="tb" x="147" y="574" textLength="196">SPECint_rate_base2006 = 67.5</text><use href="#b45" x="147" y="566"/><use href="#b46" x="154" y="566"/><use href="#b47" x="161" y="566"/><use href="#b11" x="168" y="566"/><use href="#b14" x="175" y="566"/><use href="#b23" x="182" y="566"/><use href="#b42" x="189" y="566"/><use href="#b48" x="196" y="566"/><use href="#b20" x="203" y="566"/><use href="#b41" x="210" y="566"/><use href="#b42" x="217" y="566"/><use href="#b15" x="224" y="566"/><use href="#b48" x="231" y="566"/><use href="#b22" x="238" y="566"/><use href="#b41" x="245" y="566"/><use href="#b16" x="252" y="566"/><use href="#b15" x="259" y="566"/><use href="#b28" x="266" y="566"/><use href="#b18" x="273" y="566"/><use href="#b18" x="280" y="566"/><use href="#b36" x="287" y="566"/><use href="#b49" x="301" y="566"/><use href="#b36" x="315" y="566"/><use href="#b43" x="322" y="566"/><use href="#b19" x="329" y="566"/><use href="#b34" x="336" y="566"/></g>
<g fill="#2727b0"><text class="tb" x="266" y="596" textLength="161">SPECint_rate2006 = 72.2</text><use href="#b45" x="266" y="588"/><use href="#b46" x="273" y="588"/><use href="#b47" x="280" y="588"/><use href="#b11" x="287" y="588"/><use href="#b14" x="294" y="588"/><use href="#b23" x="301" y="588"/><use href="#b42" x="308" y="588"/><use href="#b48" x="315" y="588"/><use href="#b20" x="322" y="588"/><use href="#b41" x="329" y="588"/><use href="#b42" x="336" y="588"/><use href="#b15" x="343" y="588"/><use href="#b28" x="350" y="588"/><use href="#b18" x="357" y="588"/><use href="#b18" x="364" y="588"/><use href="#b36" x="371" y="588"/><use href="#b49" x="385" y="588"/><use href="#b43" x="399" y="588"/><use href="#b28" x="406" y="588"/><use href="#b19" x="413" y="588"/><use href="#b28" x="420" y="588"/></g>
<rect x="0" y="0" width="799" height="1"/>
<rect x="0" y="605" width="799" height="1"/>
<rect x="0" y="0" width="1" height="606"/>
<rect x="798" y="0" width="1" height="606"/>
</svg>
</body></html>
